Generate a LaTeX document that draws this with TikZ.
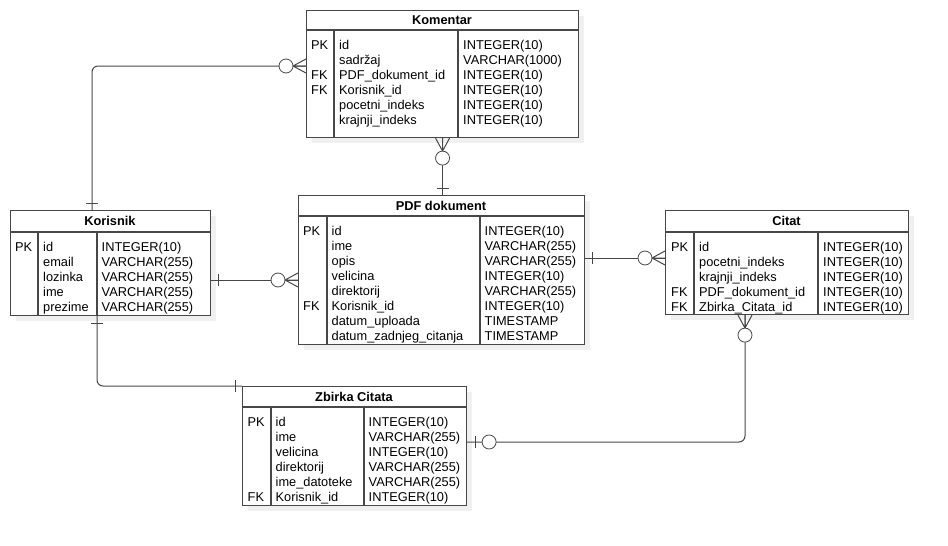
\documentclass[tikz,border=0pt]{standalone}
\usepackage{fontspec}
\setmainfont{Liberation Sans}
\usetikzlibrary{shadows}
\colorlet{mygray}{black!72}
\colorlet{myshadow}{black!6}
\newcommand\tabfont{\fontsize{12.8}{15}\selectfont}

\begin{document}
\begin{tikzpicture}[x=1pt,y=-1pt]
\useasboundingbox (0,0) rectangle (948,546);
\tikzset{TableStyle/.style ={draw=mygray, line width=1.1pt, fill=white, inner sep=0, anchor=north west,
  drop shadow={shadow xshift=5pt, shadow yshift=-5pt, fill=myshadow, opacity=1}}}
\tikzset{LineStyle/.style ={draw=mygray, line width=1.1pt}}
\tikzset{HeadStyle/.style ={inner sep=0, font=\tabfont\bfseries}}
\tikzset{ColStyle/.style ={inner sep=0, anchor=north west, align=left, font=\tabfont}}
\tikzset{rel/.style ={draw=mygray, line width=1pt}}
\tikzset{zeromany/.pic ={\draw[rel] (0,-7) -- (13,0) -- (0,7) (0,0) -- (13,0);
                         \draw[rel, line width=0.8pt, fill=white] (20,0) circle (7pt);},
         onebar/.pic ={\draw[rel] (7,-6) -- (7,6);},
         zeroone/.pic ={\draw[rel] (8,-6) -- (8,6);
                        \draw[rel, line width=0.8pt, fill=white] (22,0) circle (7pt);}}

% Komentar
\node[TableStyle, minimum width=272pt, minimum height=127pt] (kom) at (306,10) {};
\draw[LineStyle] (306,30) -- (578,30) (334,30) -- (334,137) (458,30) -- (458,137);
\node[HeadStyle] (komHead) at (442,20) {Komentar};
\node[ColStyle] (komKey) at (311,38.5) {\strut PK\\ \\ FK\\ FK};
\node[ColStyle] (komName) at (339,38.5) {\strut id\\ sadržaj\\ PDF\_dokument\_id\\ Korisnik\_id\\ pocetni\_indeks\\ krajnji\_indeks};
\node[ColStyle] (komType) at (463,38.5) {\strut INTEGER(10)\\ VARCHAR(1000)\\ INTEGER(10)\\ INTEGER(10)\\ INTEGER(10)\\ INTEGER(10)};

% Korisnik
\node[TableStyle, minimum width=200pt, minimum height=105pt] (kor) at (10,210) {};
\draw[LineStyle] (10,232) -- (210,232) (38,232) -- (38,315) (97,232) -- (97,315);
\node[HeadStyle] (korHead) at (110,221) {Korisnik};
\node[ColStyle] (korKey) at (15,240.5) {\strut PK};
\node[ColStyle] (korName) at (43,240.5) {\strut id\\ email\\ lozinka\\ ime\\ prezime};
\node[ColStyle] (korType) at (101.5,240.5) {\strut INTEGER(10)\\ VARCHAR(255)\\ VARCHAR(255)\\ VARCHAR(255)\\ VARCHAR(255)};

% PDF dokument
\node[TableStyle, minimum width=286pt, minimum height=149pt] (pdf) at (298,195) {};
\draw[LineStyle] (298,216) -- (584,216) (327,216) -- (327,344) (480,216) -- (480,344);
\node[HeadStyle] (pdfHead) at (441,205.5) {PDF dokument};
\node[ColStyle] (pdfKey) at (303,224.5) {\strut PK\\ \\ \\ \\ \\ FK};
\node[ColStyle] (pdfName) at (331.5,224.5) {\strut id\\ ime\\ opis\\ velicina\\ direktorij\\ Korisnik\_id\\ datum\_uploada\\ datum\_zadnjeg\_citanja};
\node[ColStyle] (pdfType) at (484.5,224.5) {\strut INTEGER(10)\\ VARCHAR(255)\\ VARCHAR(255)\\ INTEGER(10)\\ VARCHAR(255)\\ INTEGER(10)\\ TIMESTAMP\\ TIMESTAMP};

% Citat
\node[TableStyle, minimum width=243pt, minimum height=104pt] (cit) at (665,210) {};
\draw[LineStyle] (665,232) -- (908,232) (694,232) -- (694,314) (818,232) -- (818,314);
\node[HeadStyle] (citHead) at (786.5,221) {Citat};
\node[ColStyle] (citKey) at (671,240.5) {\strut PK\\ \\ \\ FK\\ FK};
\node[ColStyle] (citName) at (699,240.5) {\strut id\\ pocetni\_indeks\\ krajnji\_indeks\\ PDF\_dokument\_id\\ Zbirka\_Citata\_id};
\node[ColStyle] (citType) at (823,240.5) {\strut INTEGER(10)\\ INTEGER(10)\\ INTEGER(10)\\ INTEGER(10)\\ INTEGER(10)};

% Zbirka Citata
\node[TableStyle, minimum width=224pt, minimum height=119pt] (zbi) at (242,386) {};
\draw[LineStyle] (242,407) -- (466,407) (271,407) -- (271,505) (364,407) -- (364,505);
\node[HeadStyle] (zbiHead) at (354,396.5) {Zbirka Citata};
\node[ColStyle] (zbiKey) at (247.5,415.5) {\strut PK\\ \\ \\ \\ \\ FK};
\node[ColStyle] (zbiName) at (275.5,415.5) {\strut id\\ ime\\ velicina\\ direktorij\\ ime\_datoteke\\ Korisnik\_id};
\node[ColStyle] (zbiType) at (368.5,415.5) {\strut INTEGER(10)\\ VARCHAR(255)\\ INTEGER(10)\\ VARCHAR(255)\\ VARCHAR(255)\\ INTEGER(10)};

% ends of the relations
\coordinate (komL) at ([yshift=-56pt]kom.north west);
\coordinate (korT) at ([xshift=82pt]kor.north west);
\coordinate (korR) at ([yshift=-70pt]kor.north east);
\coordinate (korB) at ([xshift=87pt]kor.south west);
\coordinate (pdfR) at ([yshift=-63pt]pdf.north east);
\coordinate (citB) at ([xshift=80pt]cit.south west);
\coordinate (zbiR) at ([yshift=-56pt]zbi.north east);

\draw[rel, rounded corners=6pt] (komL) -| (korT);
\draw[rel] (kom.south) -- (kom.south |- pdf.north);
\draw[rel] (korR) -- (korR -| pdf.west);
\draw[rel] (pdfR) -- (pdfR -| cit.west);
\draw[rel, rounded corners=6pt] (korB) |- (zbi.north west);
\draw[rel, rounded corners=6pt] (zbiR) -| (citB);

\pic[rotate=180] at (komL) {zeromany};
\pic[rotate=90] at (korT) {onebar};
\pic[rotate=-90] at (kom.south) {zeromany};
\pic[rotate=90] at (kom.south |- pdf.north) {onebar};
\pic at (korR) {onebar};
\pic[rotate=180] at (korR -| pdf.west) {zeromany};
\pic at (pdfR) {onebar};
\pic[rotate=180] at (pdfR -| cit.west) {zeromany};
\pic[rotate=-90] at (korB) {onebar};
\pic[rotate=180] at (zbi.north west) {onebar};
\pic at (zbiR) {zeroone};
\pic[rotate=-90] at (citB) {zeromany};
\end{tikzpicture}
\end{document}
